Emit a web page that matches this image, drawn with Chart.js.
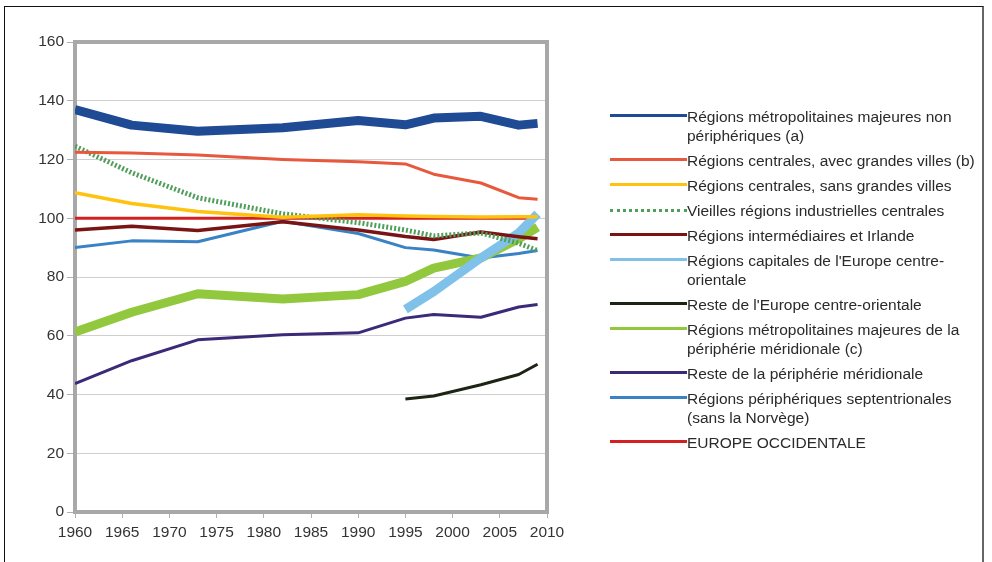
<!DOCTYPE html>
<html>
<head>
<meta charset="utf-8">
<script src="https://cdn.jsdelivr.net/npm/chart.js@4.4.1/dist/chart.umd.min.js"></script>
<style>
  html, body { margin: 0; padding: 0; background: #fff; }
  #wrap { position: relative; width: 992px; height: 562px; overflow: hidden; background: #fff; }
  #frame { position: absolute; left: 4px; top: 6px; width: 980px; height: 600px;
           border-left: 1.5px solid #111; border-top: 1.5px solid #111; border-right: 2px solid #666; box-sizing: border-box; }
  canvas { position: absolute; left: 0; top: 0; }
  #legend { position: absolute; left: 610px; top: 107px; font-family: "Liberation Sans", Arial, sans-serif;
            font-size: 15.5px; color: #2a2a2a; }
  .item { position: relative; padding-left: 77px; line-height: 19px; margin-bottom: 6px; white-space: nowrap; }
  .swatch { position: absolute; left: 0; top: 9px; width: 77px; height: 0; }
</style>
</head>
<body>
<div id="wrap">
  <div id="frame"></div>
  <canvas id="c" width="992" height="562"></canvas>
  <div id="legend"></div>
</div>
<script>
const years = [1960, 1966, 1973, 1982, 1990, 1995, 1998, 2003, 2007, 2009];
const yTicks = [0, 20, 40, 60, 80, 100, 120, 140, 160];
const xTicks = [1960, 1965, 1970, 1975, 1980, 1985, 1990, 1995, 2000, 2005, 2010];

const labels = [
  "Régions métropolitaines majeures non\npériphériques (a)",
  "Régions centrales, avec grandes villes (b)",
  "Régions centrales, sans grandes villes",
  "Vieilles régions industrielles centrales",
  "Régions intermédiaires et Irlande",
  "Régions capitales de l'Europe centre-\norientale",
  "Reste de l'Europe centre-orientale",
  "Régions métropolitaines majeures de la\npériphérie méridionale (c)",
  "Reste de la périphérie méridionale",
  "Régions périphériques septentrionales\n(sans la Norvège)",
  "EUROPE OCCIDENTALE"
];

const metroNonPeri     = [137.0, 131.7, 129.6, 130.8, 133.3, 131.8, 134.1, 134.7, 131.7, 132.3];
const centralesAvec    = [122.5, 122.2, 121.5, 120.0, 119.2, 118.5, 115.0, 112.0, 107.0, 106.5];
const centralesSans    = [108.7, 105.0, 102.3, 100.3, 101.2, 100.8, 100.6, 100.4, 100.5, 100.5];
const vieillesInd      = [124.5, 115.5, 107.0, 101.5, 98.5, 96.0, 94.0, 95.0, 91.5, 89.0];
const intermediaires   = [96.0, 97.3, 95.8, 98.8, 96.0, 93.8, 92.8, 95.3, 93.7, 93.0];
const capitalesCO      = [null, null, null, null, null, 69.0, 75.0, 86.5, 95.0, 101.5];
const resteCO          = [null, null, null, null, null, 38.5, 39.5, 43.3, 46.8, 50.3];
const metroMeridionale = [61.3, 68.0, 74.3, 72.5, 74.0, 78.5, 83.0, 86.5, 93.0, 97.0];
const resteMeridionale = [43.7, 51.5, 58.6, 60.3, 61.0, 66.0, 67.2, 66.3, 69.8, 70.6];
const septentrionales  = [90.0, 92.3, 92.0, 99.0, 94.8, 90.0, 89.2, 86.5, 88.0, 89.0];
const europeOcc        = [100, 100, 100, 100, 100, 100, 100, 100, 100, 100];

const seriesValues = [metroNonPeri, centralesAvec, centralesSans, vieillesInd, intermediaires,
  capitalesCO, resteCO, metroMeridionale, resteMeridionale, septentrionales, europeOcc];

const styles = [
  { color: "#1f4a94", width: 9 },
  { color: "#e8583c", width: 3 },
  { color: "#ffc20e", width: 3.5 },
  { color: "#4f9e5a", width: 5, dash: [2, 2] },
  { color: "#7a1414", width: 3.5 },
  { color: "#80c1ea", width: 9 },
  { color: "#1c2414", width: 3 },
  { color: "#92c83e", width: 9 },
  { color: "#3a2a78", width: 3 },
  { color: "#3a82c6", width: 3 },
  { color: "#d42020", width: 3 }
];

const datasets = seriesValues.map((vals, i) => ({
  label: labels[i],
  data: years.map((yr, j) => ({ x: yr, y: vals[j] })),
  borderColor: styles[i].color,
  backgroundColor: styles[i].color,
  borderWidth: styles[i].width,
  borderDash: styles[i].dash || [],
  pointRadius: 0,
  tension: 0,
  spanGaps: false,
  borderJoinStyle: "round",
  fill: false
}));

const frameBox = {
  id: "frameBox",
  beforeDatasetsDraw(chart) {
    const { ctx, chartArea: a } = chart;
    ctx.save();
    ctx.strokeStyle = "#a8a8a8";
    ctx.lineWidth = 4;
    ctx.strokeRect(a.left, a.top, a.right - a.left, a.bottom - a.top);
    ctx.restore();
  }
};

const fontSpec = { family: "'Liberation Sans', Arial, sans-serif", size: 15.5 };

new Chart(document.getElementById("c"), {
  type: "line",
  data: { datasets },
  plugins: [frameBox],
  options: {
    responsive: false,
    animation: false,
    layout: { padding: { left: 0, right: 445, top: 42, bottom: 0 } },
    plugins: { legend: { display: false }, tooltip: { enabled: false } },
    scales: {
      x: {
        type: "linear", min: 1960, max: 2010,
        afterBuildTicks: s => { s.ticks = xTicks.map(v => ({ value: v })); },
        afterFit: s => { s.height = 50; },
        ticks: { color: "#333", font: fontSpec, padding: 5, maxRotation: 0, autoSkip: false,
                 callback: v => String(v) },
        grid: { drawOnChartArea: false, drawTicks: true, tickLength: 6, color: "#b0b0b0" },
        border: { display: false }
      },
      y: {
        min: 0, max: 160,
        afterBuildTicks: s => { s.ticks = yTicks.map(v => ({ value: v })); },
        afterFit: s => { s.width = 75; },
        ticks: { color: "#333", font: fontSpec, padding: 3, callback: v => String(v) },
        grid: { color: "#cfcfcf", lineWidth: 1, tickLength: 8, tickColor: "#b0b0b0" },
        border: { display: false }
      }
    }
  }
});

const legend = document.getElementById("legend");
labels.forEach((lab, i) => {
  const d = document.createElement("div");
  d.className = "item";
  const sw = document.createElement("div");
  sw.className = "swatch";
  const st = styles[i];
  sw.style.borderTop = (st.dash ? "3px dotted " : "3.5px solid ") + st.color;
  sw.style.marginTop = st.dash ? "-1.5px" : "-1.75px";
  d.appendChild(sw);
  lab.split("\n").forEach((line, k) => {
    if (k > 0) d.appendChild(document.createElement("br"));
    d.appendChild(document.createTextNode(line));
  });
  legend.appendChild(d);
});
</script>
</body>
</html>
